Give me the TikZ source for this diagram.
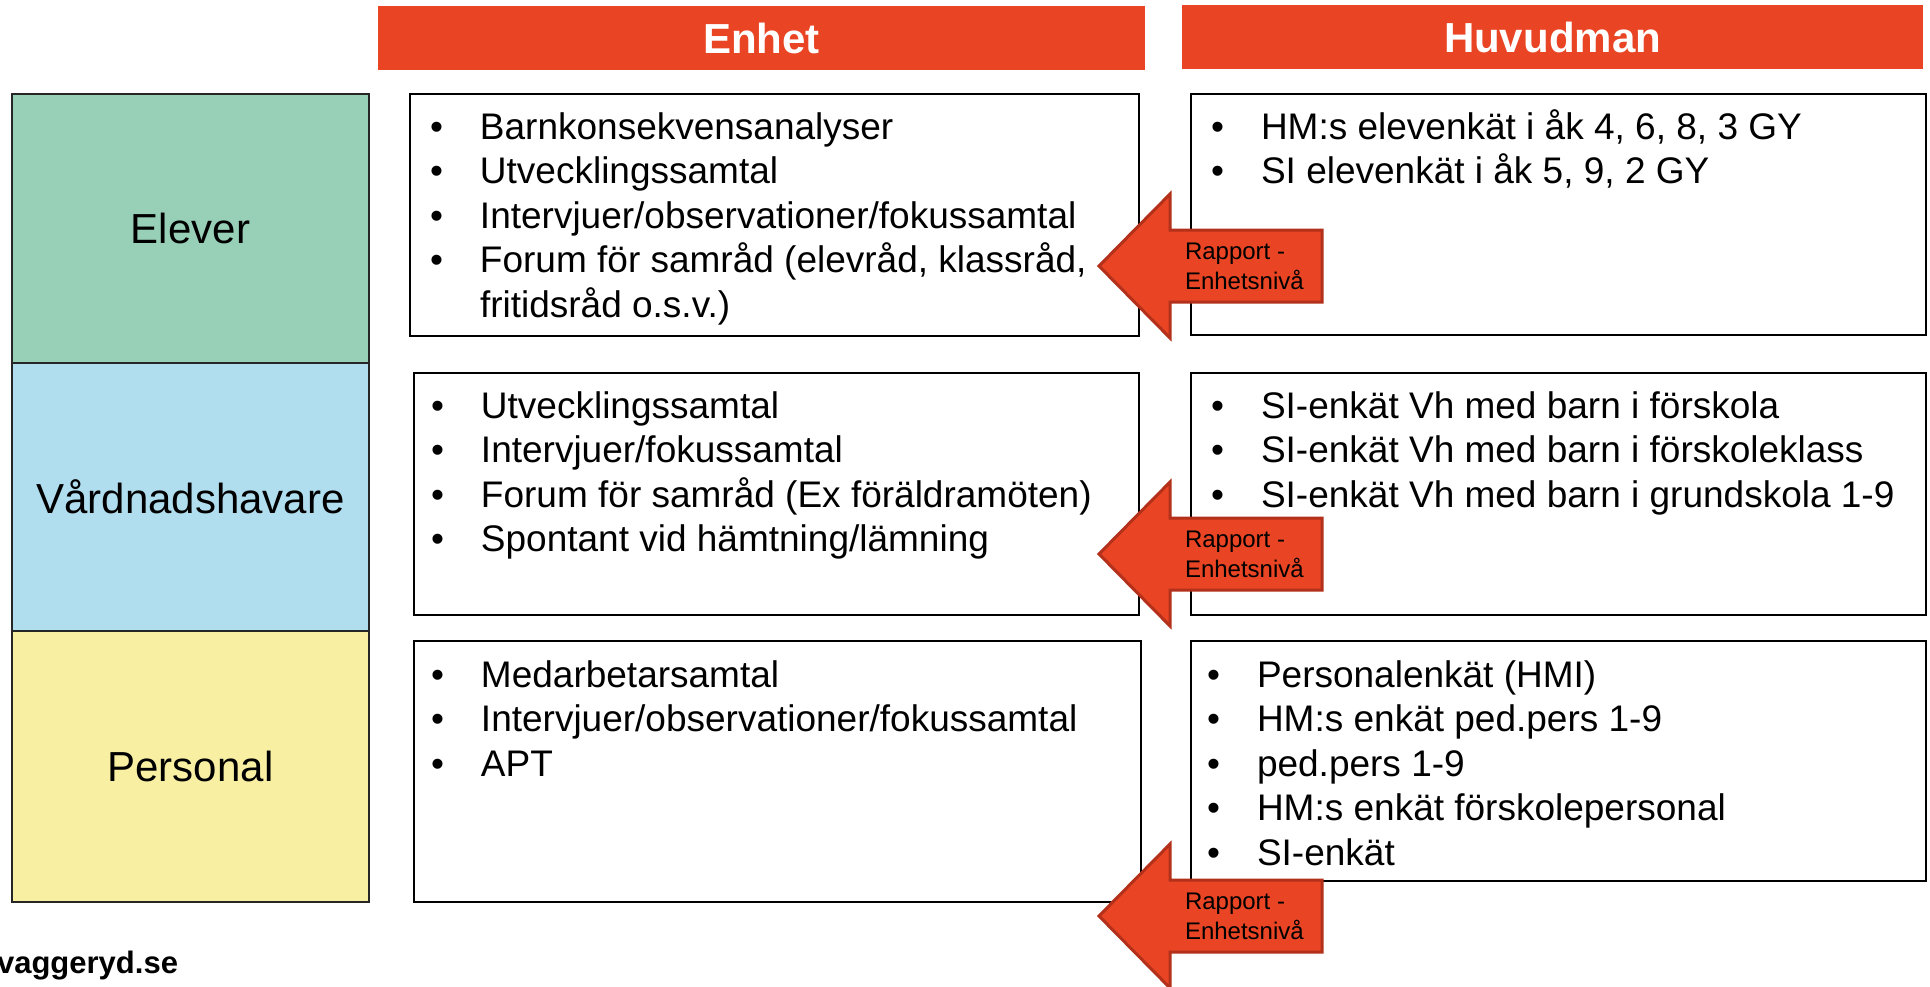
\documentclass[tikz,border=0pt]{standalone}
\usepackage{fontspec}
\setmainfont{Liberation Sans}
\definecolor{hdr}{HTML}{E94524}
\definecolor{grn}{HTML}{97CFB7}
\definecolor{blu}{HTML}{B1DEEF}
\definecolor{ylw}{HTML}{F8EFA2}
\definecolor{arrfill}{HTML}{E94524}
\definecolor{arrline}{HTML}{B3301A}
\newcommand\lbul{\makebox[50pt][l]{•}}
\newcommand\lind{\makebox[50pt][l]{}}
\begin{document}
\begin{tikzpicture}[x=1pt,y=-1pt,
  hdrbox/.style={fill=hdr, draw=none, anchor=north west, inner sep=0, outer sep=0,
    text=white, font=\fontsize{42}{50}\selectfont\bfseries},
  catbox/.style={draw=black!85, line width=2pt, anchor=north west, inner sep=0, outer sep=0,
    font=\fontsize{42}{50}\selectfont},
  listbox/.style={draw=black, line width=2pt, fill=white, anchor=north west, inner sep=0, outer sep=0},
  listtxt/.style={anchor=base west, inner sep=0, outer sep=0, font=\fontsize{37}{44.5}\selectfont},
  arrowshape/.style={fill=arrfill, draw=arrline, line width=3pt, line join=miter},
  arrtxt/.style={anchor=west, align=left, inner sep=0, outer sep=0, font=\fontsize{24}{30}\selectfont},
  webtxt/.style={anchor=base east, inner sep=0, outer sep=0, font=\fontsize{31}{36}\selectfont\bfseries}
]
\useasboundingbox (0,0) rectangle (1930,986);

% headers
\node[hdrbox, minimum width=767, minimum height=64] (henhet) at (378,6) {Enhet};
\node[hdrbox, minimum width=741, minimum height=64] (hhuvud) at (1182,5) {Huvudman};

% categories
\node[catbox, fill=grn, minimum width=357, minimum height=269] (elever) at (12,94) {Elever};
\node[catbox, fill=blu, minimum width=357, minimum height=268] (vard) at (12,363) {Vårdnadshavare};
\node[catbox, fill=ylw, minimum width=357, minimum height=271] (pers) at (12,631) {Personal};

% Enhet boxes
\node[listbox, minimum width=729, minimum height=242] (e1) at (410,94) {};
\node[listbox, minimum width=725, minimum height=242] (e2) at (414,373) {};
\node[listbox, minimum width=727, minimum height=261] (e3) at (414,641) {};

% Huvudman boxes
\node[listbox, minimum width=735, minimum height=241] (h1) at (1191,94) {};
\node[listbox, minimum width=735, minimum height=242] (h2) at (1191,373) {};
\node[listbox, minimum width=735, minimum height=240] (h3) at (1191,641) {};

% Enhet texts
\node[listtxt] (e1t) at (430,139) {\begin{tabular}[t]{@{}l@{}}
\lbul Barnkonsekvensanalyser\\
\lbul Utvecklingssamtal\\
\lbul Intervjuer/observationer/fokussamtal\\
\lbul Forum för samråd (elevråd, klassråd,\\
\lind fritidsråd o.s.v.)
\end{tabular}};
\node[listtxt] (e2t) at (431,418) {\begin{tabular}[t]{@{}l@{}}
\lbul Utvecklingssamtal\\
\lbul Intervjuer/fokussamtal\\
\lbul Forum för samråd (Ex föräldramöten)\\
\lbul Spontant vid hämtning/lämning
\end{tabular}};
\node[listtxt] (e3t) at (431,687) {\begin{tabular}[t]{@{}l@{}}
\lbul Medarbetarsamtal\\
\lbul Intervjuer/observationer/fokussamtal\\
\lbul APT
\end{tabular}};

% Huvudman texts
\node[listtxt] (h1t) at (1211,139) {\begin{tabular}[t]{@{}l@{}}
\lbul HM:s elevenkät i åk 4, 6, 8, 3 GY\\
\lbul SI elevenkät i åk 5, 9, 2 GY
\end{tabular}};
\node[listtxt] (h2t) at (1211,418) {\begin{tabular}[t]{@{}l@{}}
\lbul SI-enkät Vh med barn i förskola\\
\lbul SI-enkät Vh med barn i förskoleklass\\
\lbul SI-enkät Vh med barn i grundskola 1-9
\end{tabular}};
\node[listtxt] (h3t) at (1207,687) {\begin{tabular}[t]{@{}l@{}}
\lbul Personalenkät (HMI)\\
\lbul HM:s enkät ped.pers 1-9\\
\lbul ped.pers 1-9\\
\lbul HM:s enkät förskolepersonal\\
\lbul SI-enkät
\end{tabular}};

% report arrows
\foreach \c/\n in {266/r1,554/r2,916/r3}{
  \draw[arrowshape] (1099,\c) -- (1170,\c-72) -- (1170,\c-36) -- (1322,\c-36)
    -- (1322,\c+36) -- (1170,\c+36) -- (1170,\c+72) -- cycle;
  \node[arrtxt] (\n) at (1185,\c) {Rapport -\\Enhetsnivå};
}

% footer
\node[webtxt] (web) at (178,973) {vaggeryd.se};
\end{tikzpicture}
\end{document}
